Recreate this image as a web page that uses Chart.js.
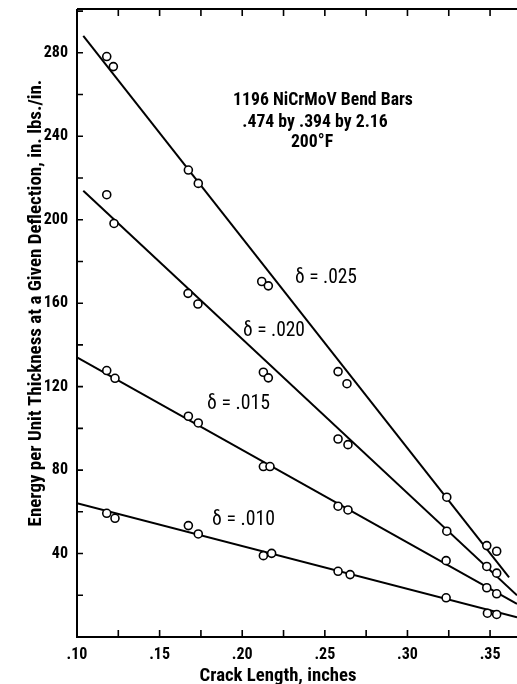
<!DOCTYPE html>
<html>
<head>
<meta charset="utf-8">
<script src="https://cdn.jsdelivr.net/npm/chart.js@4/dist/chart.umd.min.js"></script>
<style>
  body { margin: 0; background: #fff; }
  #wrap { width: 517px; height: 684px; }
</style>
</head>
<body>
<div id="wrap"><canvas id="chart"></canvas></div>
<script>
// Crack length (in.) / energy (in. lbs./in.)
const crack025 = [0.118, 0.122, 0.1674, 0.1734, 0.2118, 0.2158, 0.258, 0.2634, 0.3238, 0.348, 0.354];
const energy025 = [278.2, 273.4, 223.8, 217.4, 170.4, 168.3, 127.2, 121.4, 67.0, 43.8, 41.1];
const crack020 = [0.118, 0.1224, 0.1672, 0.1732, 0.2128, 0.2158, 0.258, 0.264, 0.3238, 0.348, 0.354];
const energy020 = [212.0, 198.2, 164.7, 159.6, 126.9, 124.2, 94.9, 92.2, 50.7, 33.8, 30.6];
const crack015 = [0.118, 0.123, 0.1674, 0.1734, 0.2128, 0.2168, 0.258, 0.264, 0.3234, 0.348, 0.354];
const energy015 = [127.7, 124.0, 105.8, 102.6, 81.7, 81.7, 62.7, 60.9, 36.6, 23.6, 20.7];
const crack010 = [0.118, 0.123, 0.1674, 0.1734, 0.2128, 0.2178, 0.258, 0.2653, 0.3234, 0.3484, 0.354];
const energy010 = [59.3, 56.9, 53.4, 49.4, 39.0, 40.1, 31.5, 29.9, 18.8, 11.4, 10.8];

// fitted straight lines (end points)
const fit025X = [0.1038, 0.3615], fit025Y = [288.1, 28.6];
const fit020X = [0.1038, 0.3663], fit020Y = [213.9, 20.0];
const fit015X = [0.10, 0.3663], fit015Y = [134.0, 15.9];
const fit010X = [0.10, 0.3663], fit010Y = [64.1, 9.5];

// axis ticks
const xTicks = [0.10, 0.125, 0.15, 0.175, 0.20, 0.225, 0.25, 0.275, 0.30, 0.325, 0.35];
const xTickLabels = [".10", "", ".15", "", ".20", "", ".25", "", ".30", "", ".35"];
const yTicks = [0, 20, 40, 60, 80, 100, 120, 140, 160, 180, 200, 220, 240, 260, 280, 300];
const yTickLabels = ["", "", "40", "", "80", "", "120", "", "160", "", "200", "", "240", "", "280", ""];

const deltaLabels = ["\u03b4 = .025", "\u03b4 = .020", "\u03b4 = .015", "\u03b4 = .010"];
const titleLines = ["1196 NiCrMoV Bend Bars", ".474 by .394 by 2.16", "200\u00b0F"];
const xTitle = "Crack Length, inches";
const yTitle = "Energy per Unit Thickness at a Given Deflection, in. lbs./in.";

const FONT = "'Roboto Condensed', 'DejaVu Sans Condensed', sans-serif";

const toPts = (xs, ys) => xs.map((x, i) => ({ x: x, y: ys[i] }));

function pointSet(xs, ys) {
  return {
    data: toPts(xs, ys),
    showLine: false,
    pointRadius: 4,
    pointBorderWidth: 1.6,
    pointBorderColor: "#000",
    pointBackgroundColor: "#fff",
    order: 1,
  };
}
function lineSet(xs, ys) {
  return {
    data: toPts(xs, ys),
    showLine: true,
    borderColor: "#000",
    borderWidth: 2,
    pointRadius: 0,
    order: 2,
  };
}

// font size that makes text fill a given width
function fitSize(ctx, text, weight, width) {
  ctx.font = weight + " 20px " + FONT;
  return (20 * width) / ctx.measureText(text).width;
}
function fitText(ctx, text, weight, width, x, y) {
  const size = fitSize(ctx, text, weight, width);
  ctx.font = weight + " " + size.toFixed(2) + "px " + FONT;
  ctx.fillText(text, x, y);
}

// axis frame with inward ticks + texts
const framePlugin = {
  id: "frame",
  afterDatasetsDraw(chart) {
    const { ctx, chartArea: a, scales } = chart;
    const x = scales.x, y = scales.y;
    ctx.save();
    ctx.strokeStyle = "#000";
    ctx.lineWidth = 2;
    ctx.beginPath();
    ctx.moveTo(a.left, a.top);
    ctx.lineTo(a.left, a.bottom);
    ctx.lineTo(a.right, a.bottom);
    ctx.moveTo(a.left, a.top);
    ctx.lineTo(a.right, a.top);
    ctx.stroke();

    ctx.lineWidth = 1.6;
    ctx.beginPath();
    yTicks.forEach((v) => {
      const py = y.getPixelForValue(v);
      ctx.moveTo(a.left, py);
      ctx.lineTo(a.left + 6, py);
    });
    xTicks.forEach((v) => {
      const px = x.getPixelForValue(v);
      ctx.moveTo(px, a.bottom);
      ctx.lineTo(px, a.bottom - 7);
      ctx.moveTo(px, a.top);
      ctx.lineTo(px, a.top + 7);
    });
    ctx.stroke();

    ctx.fillStyle = "#000";
    ctx.textBaseline = "middle";
    ctx.textAlign = "center";
    const ts = fitSize(ctx, titleLines[0], "bold", 180).toFixed(2);
    ctx.font = "bold " + ts + "px " + FONT;
    ctx.fillText(titleLines[0], 323, 101);
    ctx.fillText(titleLines[1], 315, 123);
    ctx.fillText(titleLines[2], 312, 143);

    ctx.textAlign = "left";
    fitText(ctx, deltaLabels[0], "normal", 62, 295, 278);
    fitText(ctx, deltaLabels[1], "normal", 62, 243, 331);
    fitText(ctx, deltaLabels[2], "normal", 63, 207, 404);
    fitText(ctx, deltaLabels[3], "normal", 63, 212, 520);

    ctx.textAlign = "center";
    fitText(ctx, xTitle, "bold", 157, 278, 676);
    ctx.translate(36, 303);
    ctx.rotate(-Math.PI / 2);
    fitText(ctx, yTitle, "bold", 447, 0, 0);
    ctx.restore();
  },
};

new Chart(document.getElementById("chart"), {
  type: "scatter",
  data: {
    datasets: [
      pointSet(crack025, energy025),
      pointSet(crack020, energy020),
      pointSet(crack015, energy015),
      pointSet(crack010, energy010),
      lineSet(fit025X, fit025Y),
      lineSet(fit020X, fit020Y),
      lineSet(fit015X, fit015Y),
      lineSet(fit010X, fit010Y),
    ],
  },
  options: {
    responsive: true,
    maintainAspectRatio: false,
    animation: false,
    layout: { autoPadding: false, padding: { top: 9, right: 0, left: 0, bottom: 0 } },
    plugins: { legend: { display: false }, tooltip: { enabled: false } },
    scales: {
      x: {
        type: "linear",
        min: 0.1,
        max: 0.3663,
        grid: { display: false, drawTicks: false },
        border: { display: false },
        afterBuildTicks: (s) => { s.ticks = xTicks.map((v) => ({ value: v })); },
        afterFit: (s) => { s.height = 47; s.paddingLeft = 0; s.paddingRight = 0; },
        ticks: {
          autoSkip: false,
          maxRotation: 0,
          padding: 8,
          color: "#000",
          font: { family: FONT, size: 16, weight: "bold" },
          callback: (v, i) => xTickLabels[i],
        },
      },
      y: {
        min: 0,
        max: 301,
        grid: { display: false, drawTicks: false },
        border: { display: false },
        afterBuildTicks: (s) => { s.ticks = yTicks.map((v) => ({ value: v })); },
        afterFit: (s) => { s.width = 77; s.paddingTop = 0; s.paddingBottom = 0; },
        ticks: {
          autoSkip: false,
          padding: 9,
          color: "#000",
          font: { family: FONT, size: 16, weight: "bold" },
          callback: (v, i) => yTickLabels[i],
        },
      },
    },
  },
  plugins: [framePlugin],
});
</script>
</body>
</html>
